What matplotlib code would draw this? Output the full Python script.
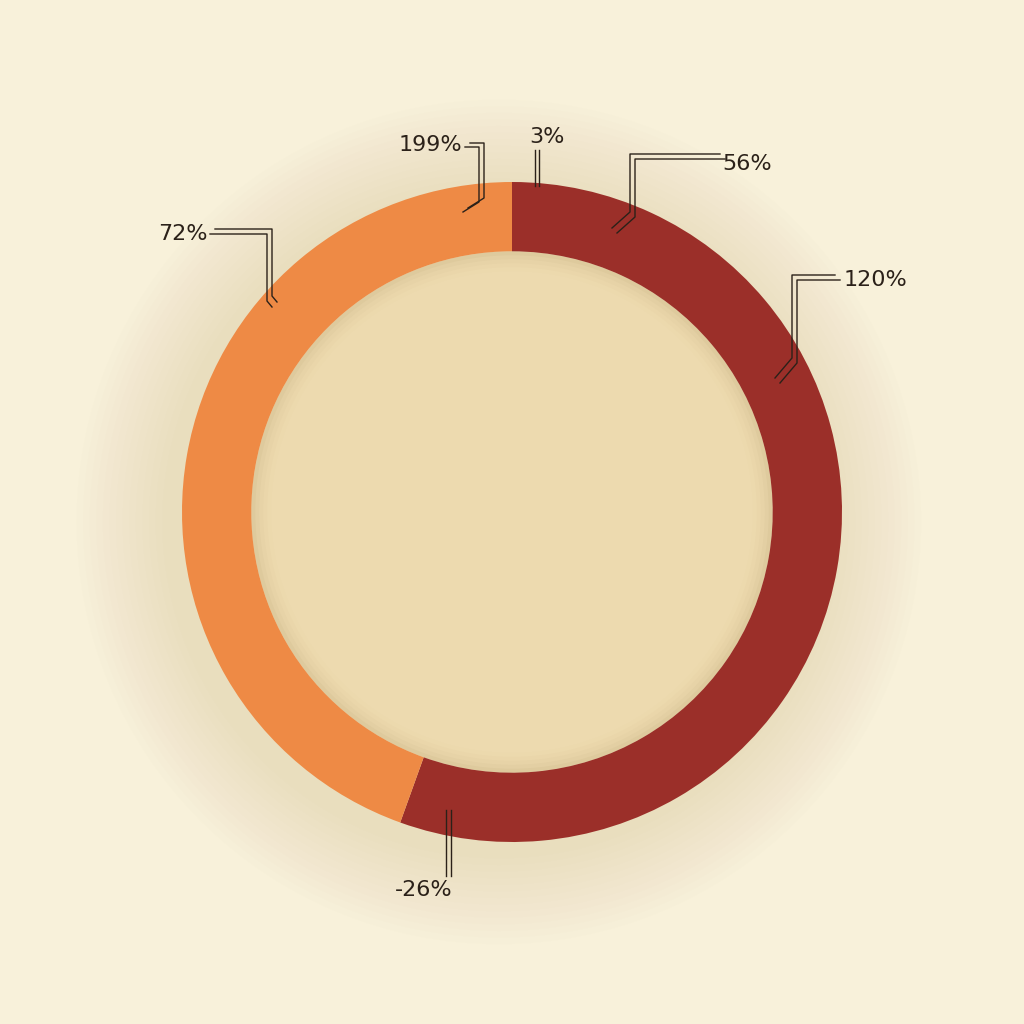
import matplotlib.pyplot as plt
from matplotlib.patches import Circle

# ring shares (red goes clockwise from top, orange fills the rest)
shares = [55.5, 44.5]
colors = ['#9B2F29', '#EE8A45']

# callout texts as printed on the chart
labels = ['199%', '3%', '56%', '72%', '120%', '-26%']

BG = '#F8F1DA'
INK = '#2B2119'
R = 330.0


def px(x, y):
    # image pixel -> data coords (radius 1 == 330 px)
    return (x - 512) / R, (512 - y) / R


fig = plt.figure(figsize=(10.24, 10.24), dpi=100)
fig.patch.set_facecolor(BG)
ax = fig.add_axes([0, 0, 1, 1])
ax.set_facecolor(BG)

ax.pie(shares, colors=colors, startangle=90, counterclock=False,
       radius=1.0, wedgeprops=dict(width=0.21, linewidth=0))
for w in ax.patches:
    w.set_zorder(3)

# soft shadow around the ring
for i in range(14):
    r = 1.0 + 0.02 * (14 - i)
    ax.add_patch(Circle((-0.04, -0.03), r, color='#CDBE90', alpha=0.022, lw=0, zorder=1))

# inner plate
shades = ['#DECA9D', '#E3CFA3', '#E7D3A7', '#EAD6AA', '#ECD9AD', '#EDDAAF']
for i, shade in enumerate(shades):
    ax.add_patch(Circle((0, 0), 0.79 - 0.012 * i, color=shade, lw=0, zorder=2))

ax.set_xlim(-512 / R, 512 / R)
ax.set_ylim(-512 / R, 512 / R)
ax.set_aspect('equal')
ax.axis('off')

# callouts: text position, alignment, leader path (pixels), offset of the twin line
callouts = [
    (labels[0], (462, 145), 'right', [(470, 143), (484, 143), (484, 198), (468, 208)], (-5, 4)),
    (labels[1], (529, 137), 'left', [(535, 150), (535, 186)], (4, 0)),
    (labels[2], (722, 164), 'left', [(720, 154), (630, 154), (630, 212), (612, 228)], (5, 5)),
    (labels[3], (208, 234), 'right', [(215, 229), (272, 229), (272, 296), (277, 302)], (-5, 5)),
    (labels[4], (844, 280), 'left', [(835, 275), (792, 275), (792, 358), (775, 378)], (5, 5)),
    (labels[5], (452, 890), 'right', [(446, 810), (446, 876)], (5, 0)),
]

for text, (tx, ty), ha, path, (ox, oy) in callouts:
    x, y = px(tx, ty)
    ax.text(x, y, text, ha=ha, va='center', fontsize=16, color=INK,
            family='DejaVu Sans', zorder=6)
    for k in (0, 1):
        pts = [px(p[0] + k * ox, p[1] + k * oy) for p in path]
        ax.plot([p[0] for p in pts], [p[1] for p in pts], color=INK, lw=1.0, zorder=5)

fig.savefig('out.png', dpi=100, facecolor=BG)
